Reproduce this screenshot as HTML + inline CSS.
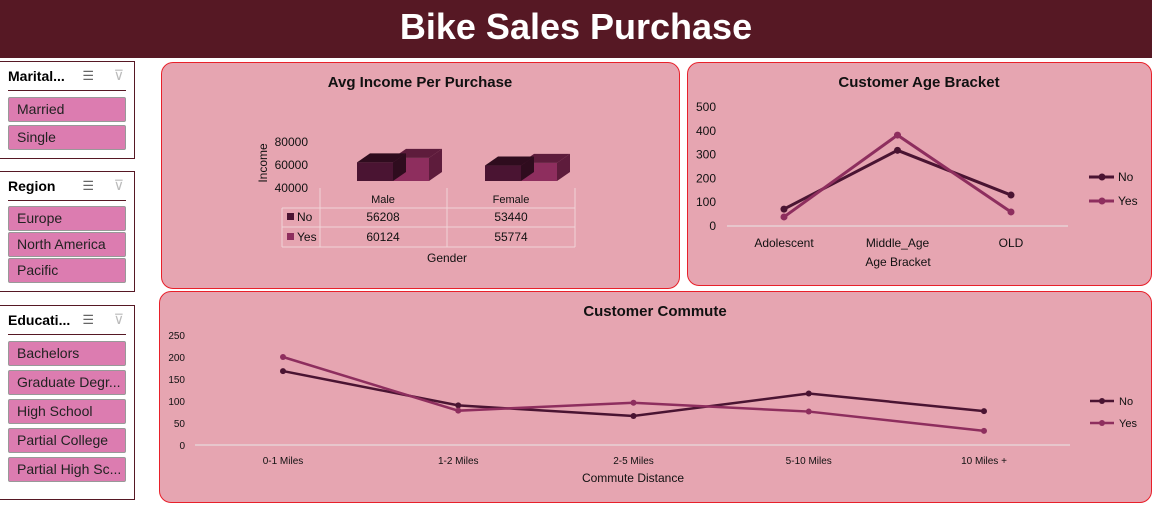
<!DOCTYPE html>
<html><head><meta charset="utf-8"><style>
*{margin:0;padding:0;box-sizing:border-box}
body{width:1152px;height:505px;background:#fff;position:relative;overflow:hidden;font-family:"Liberation Sans",sans-serif}
.hdr{position:absolute;left:0;top:0;width:1152px;height:58px;background:#561824;color:#fff;font-weight:bold;font-size:36px;text-align:center;line-height:54px}
.slicer{position:absolute;left:0;width:135px;border:1.5px solid #561824;border-left:none;background:#fff}
.slicer .t{position:absolute;left:8px;top:6px;font-weight:bold;font-size:14px}
.slicer .ln{position:absolute;left:8px;right:8px;top:28px;border-top:1.5px solid #561824}
.slicer .ic{position:absolute;right:40px;top:6px;font-size:13px;color:#666}
.slicer .fi{position:absolute;right:10px;top:5px;font-size:14px;color:#bbb}
.btn{position:absolute;left:8px;width:118px;height:25px;background:#dc7cb0;border:1px solid #999;border-radius:2px;font-size:14px;line-height:23px;padding-left:8px;color:#222;white-space:nowrap}
.panel{position:absolute;background:#e6a5b1;border:1.5px solid #e8202a;border-radius:12px}
svg text{font-family:"Liberation Sans",sans-serif}
</style></head><body>
<div class="hdr">Bike Sales Purchase</div>

<div class="slicer" style="top:61px;height:98px">
<div class="t">Marital...</div><div class="ic">☰</div><div class="fi">⊽</div><div class="ln"></div>
<div class="btn" style="top:35px">Married</div>
<div class="btn" style="top:63px">Single</div>
</div>
<div class="slicer" style="top:171px;height:121px">
<div class="t">Region</div><div class="ic">☰</div><div class="fi">⊽</div><div class="ln"></div>
<div class="btn" style="top:34px">Europe</div>
<div class="btn" style="top:60px">North America</div>
<div class="btn" style="top:86px">Pacific</div>
</div>
<div class="slicer" style="top:305px;height:195px">
<div class="t">Educati...</div><div class="ic">☰</div><div class="fi">⊽</div><div class="ln"></div>
<div class="btn" style="top:35px">Bachelors</div>
<div class="btn" style="top:64px">Graduate Degr...</div>
<div class="btn" style="top:93px">High School</div>
<div class="btn" style="top:122px">Partial College</div>
<div class="btn" style="top:151px">Partial High Sc...</div>
</div>

<div class="panel" style="left:161px;top:62px;width:519px;height:227px"></div>
<div class="panel" style="left:687px;top:62px;width:465px;height:224px"></div>
<div class="panel" style="left:159px;top:291px;width:993px;height:212px"></div>

<svg id="s" width="1152" height="505" style="position:absolute;left:0;top:0"></svg>
<script>
const genders=["Male","Female"];
const incomeNo=[56208,53440];
const incomeYes=[60124,55774];
const ages=["Adolescent","Middle_Age","OLD"];
const ageNo=[71,318,130];
const ageYes=[38,382,59];
const commutes=["0-1 Miles","1-2 Miles","2-5 Miles","5-10 Miles","10 Miles +"];
const commuteNo=[168,90,66,117,77];
const commuteYes=[200,78,96,76,32];
const NO="#4a1432",YES="#8e2e5e";
const s=document.getElementById('s');
function el(t,a,txt){const e=document.createElementNS('http://www.w3.org/2000/svg',t);for(const k in a)e.setAttribute(k,a[k]);if(txt!==undefined)e.textContent=txt;s.appendChild(e);return e;}
function tx(x,y,t,sz,anc,w,name){const e=el('text',{x:x,y:y,'font-size':sz,'text-anchor':anc||'middle','font-weight':w||'normal',fill:'#111'},t);

return e;}
// Income chart
tx(420,87,"Avg Income Per Purchase",15,'middle','bold','income-title');
[80000,60000,40000].forEach(v=>{const t=tx(308,192-(v-40000)*0.00115,String(v),12,'end','normal','income-tick');});
const yl=tx(0,0,"Income",12,'middle','normal','income-axis-title');yl.setAttribute('transform','translate(267,163) rotate(-90)');
function yInc(v){return 187-(v-40000)*0.00115-6;}
function bar(x,v,c,dark,name){const top=yInc(v),w=36,d=13,dy=9,b=181;
const f=el('rect',{x:x,y:top,width:w,height:b-top,fill:c});
el('polygon',{points:`${x},${top} ${x+d},${top-dy} ${x+w+d},${top-dy} ${x+w},${top}`,fill:dark});
el('polygon',{points:`${x+w},${top} ${x+w+d},${top-dy} ${x+w+d},${b-dy} ${x+w},${b}`,fill:dark});}
genders.forEach((g,i)=>{const x0=357+i*128;bar(x0+36,incomeYes[i],YES,'#5e1c3c','bar-yes-'+g.toLowerCase());bar(x0,incomeNo[i],NO,'#2f0c1e','bar-no-'+g.toLowerCase());});
const gl='#f0d3d8';
[[320,188,320,247],[447,188,447,247],[575,188,575,247],[282,208,282,247],[282,208,575,208],[282,227,575,227],[282,247,575,247]].forEach(l=>el('line',{x1:l[0],y1:l[1],x2:l[2],y2:l[3],stroke:gl,'stroke-width':1}));
genders.forEach((g,i)=>{const cx=[383,511][i];tx(cx,203,g,11,'middle','normal','table-header');tx(cx,221,String(incomeNo[i]),12,'middle','normal','table-no-value');tx(cx,241,String(incomeYes[i]),12,'middle','normal','table-yes-value');});
el('rect',{x:287,y:213,width:7,height:7,fill:NO});tx(297,221,"No",12,'start','normal','table-no-label');
el('rect',{x:287,y:233,width:7,height:7,fill:YES});tx(297,241,"Yes",12,'start','normal','table-yes-label');
tx(447,262,"Gender",12,'middle','normal','income-x-title');
// line chart helper
function lineChart(cats,series,xs,y0,pxPer,ticks,tickX,axX1,axX2,name,r,lw,fs){
ticks.forEach(t=>tx(tickX,y0-t*pxPer+4,String(t),fs,'end','normal',name+'-tick'));
el('line',{x1:axX1,y1:y0,x2:axX2,y2:y0,stroke:'#e8e8e8','stroke-width':1});
cats.forEach((c,i)=>tx(xs(i),y0+(fs>11?21:19),c,fs,'middle','normal',name+'-category'));
series.forEach(([vals,col,sn])=>{const pts=vals.map((v,i)=>[xs(i),y0-v*pxPer]);
const p=el('polyline',{points:pts.map(p=>p.join(',')).join(' '),fill:'none',stroke:col,'stroke-width':lw});

pts.forEach(pt=>{const c=el('circle',{cx:pt[0],cy:pt[1],r:r,fill:col});});});}
// Age
tx(919,87,"Customer Age Bracket",15,'middle','bold','age-title');
const ageX=[784,898,1011];
lineChart(ages,[[ageNo,NO,'no'],[ageYes,YES,'yes']],i=>ageX[0]+i*(ageX[2]-ageX[0])/2,226,0.238,[0,100,200,300,400,500],716,727,1068,'age',3.5,3,12);
tx(898,266,"Age Bracket",12,'middle','normal','age-x-title');
el('line',{x1:1089,y1:177,x2:1114,y2:177,stroke:NO,'stroke-width':3});el('circle',{cx:1102,cy:177,r:3.5,fill:NO});tx(1118,181,"No",12,'start','normal','legend-no');
el('line',{x1:1089,y1:201,x2:1114,y2:201,stroke:YES,'stroke-width':3});el('circle',{cx:1102,cy:201,r:3.5,fill:YES});tx(1118,205,"Yes",12,'start','normal','legend-yes');
// Commute
tx(655,316,"Customer Commute",15,'middle','bold','commute-title');
lineChart(commutes,[[commuteNo,NO,'no'],[commuteYes,YES,'yes']],i=>283+i*175.25,445,0.44,[0,50,100,150,200,250],185,195,1070,'commute',3,2.5,10);
tx(633,482,"Commute Distance",12,'middle','normal','commute-x-title');
el('line',{x1:1090,y1:401,x2:1114,y2:401,stroke:NO,'stroke-width':2.5});el('circle',{cx:1102,cy:401,r:3,fill:NO});tx(1119,405,"No",11,'start','normal','legend-no');
el('line',{x1:1090,y1:423,x2:1114,y2:423,stroke:YES,'stroke-width':2.5});el('circle',{cx:1102,cy:423,r:3,fill:YES});tx(1119,427,"Yes",11,'start','normal','legend-yes');
</script>
</body></html>
